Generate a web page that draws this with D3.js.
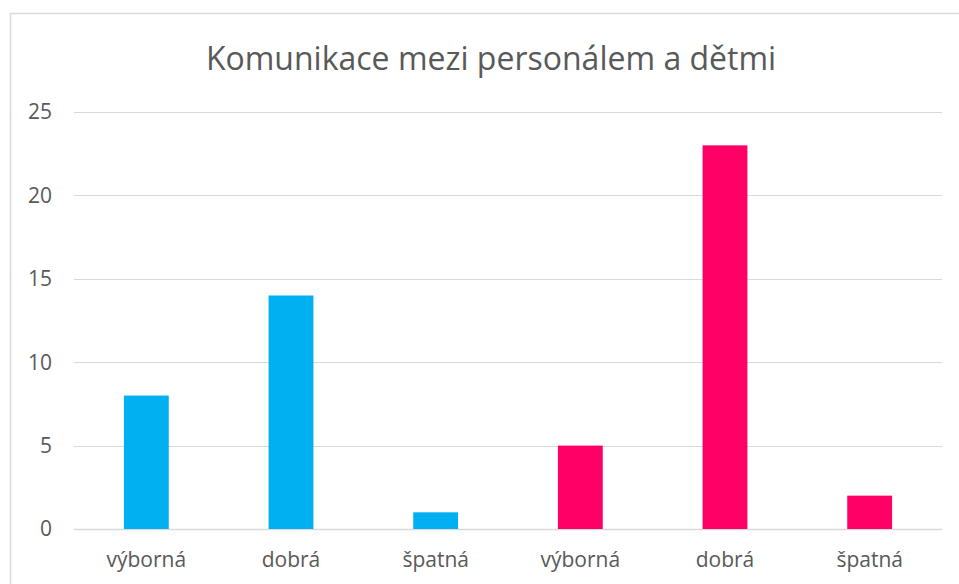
<!DOCTYPE html>
<html>
<head>
<meta charset="utf-8">
<script src="https://cdn.jsdelivr.net/npm/d3@7"></script>
<style>
  body { margin: 0; background: #fff; }
  svg { display: block; font-family: "Open Sans", "Noto Sans", sans-serif; }
</style>
</head>
<body>
<div id="chart"></div>
<script>
// chart data
const categories = ["výborná", "dobrá", "špatná", "výborná", "dobrá", "špatná"];
const values = [8, 14, 1, 5, 23, 2];
const barColors = ["#00B0F0", "#00B0F0", "#00B0F0", "#FF0066", "#FF0066", "#FF0066"];
const yTicks = [0, 5, 10, 15, 20, 25];
const title = "Komunikace mezi personálem a dětmi";

const width = 959, height = 584;
const margin = { top: 112, right: 17, bottom: 55, left: 74 };

const svg = d3.select("#chart").append("svg")
  .attr("width", width)
  .attr("height", height);

// chart frame
svg.append("rect")
  .attr("x", 10.5).attr("y", 13.5)
  .attr("width", width).attr("height", height)
  .attr("fill", "#fff")
  .attr("stroke", "#d9d9d9")
  .attr("stroke-width", 1.5);

const x = d3.scaleBand()
  .domain(d3.range(categories.length))
  .range([margin.left, width - margin.right])
  .paddingInner(0.69)
  .paddingOuter(0.345);

const y = d3.scaleLinear()
  .domain([0, 25])
  .range([height - margin.bottom, margin.top]);

// gridlines
svg.append("g")
  .selectAll("line")
  .data(yTicks)
  .enter()
  .append("line")
  .attr("x1", margin.left)
  .attr("x2", width - margin.right)
  .attr("y1", d => Math.round(y(d)) + 0.5)
  .attr("y2", d => Math.round(y(d)) + 0.5)
  .attr("stroke", "#d9d9d9")
  .attr("stroke-width", d => d === 0 ? 1.5 : 1.2);

// y tick labels
svg.append("g")
  .selectAll("text")
  .data(yTicks)
  .enter()
  .append("text")
  .attr("x", 52)
  .attr("y", d => y(d))
  .attr("dy", "0.35em")
  .attr("text-anchor", "end")
  .attr("font-size", "21px")
  .attr("fill", "#595959")
  .text(d => d);

// bars
svg.selectAll(".bar")
  .data(values)
  .enter()
  .append("rect")
  .attr("class", "bar")
  .attr("x", (d, i) => x(i))
  .attr("y", d => y(d))
  .attr("width", x.bandwidth())
  .attr("height", d => y(0) - y(d))
  .attr("fill", (d, i) => barColors[i]);

// category labels
svg.selectAll(".cat")
  .data(categories)
  .enter()
  .append("text")
  .attr("class", "cat")
  .attr("x", (d, i) => x(i) + x.bandwidth() / 2)
  .attr("y", 567)
  .attr("text-anchor", "middle")
  .attr("font-size", "21px")
  .attr("fill", "#595959")
  .text(d => d);

// title
svg.append("text")
  .attr("x", 491)
  .attr("y", 70)
  .attr("text-anchor", "middle")
  .attr("font-size", "32px")
  .attr("fill", "#595959")
  .text(title);
</script>
</body>
</html>
